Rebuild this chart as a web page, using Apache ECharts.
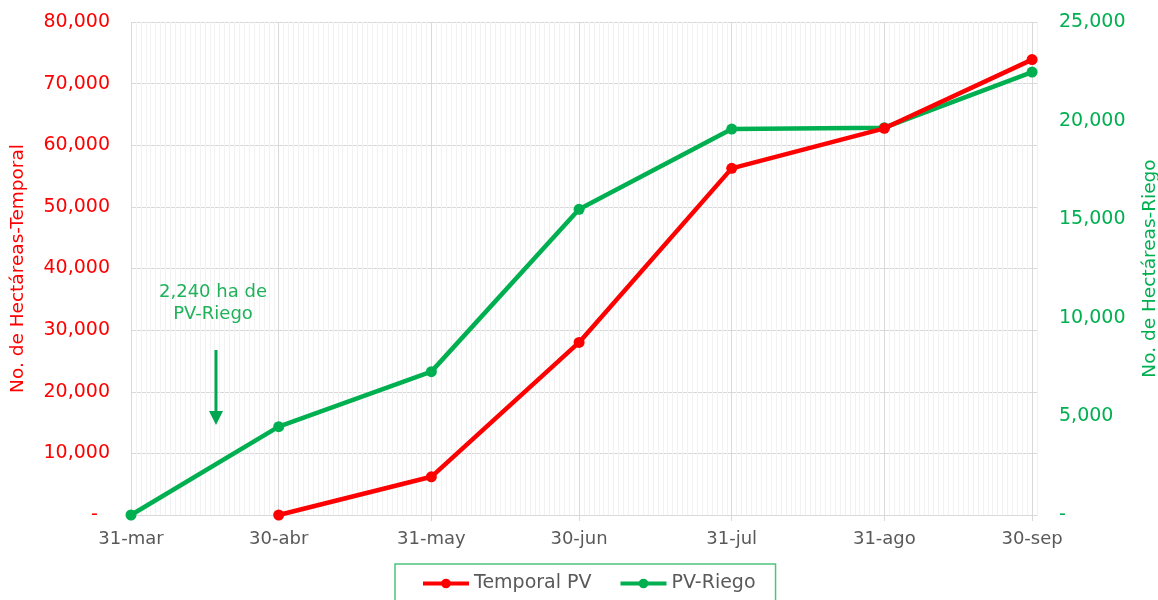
<!DOCTYPE html>
<html>
<head>
<meta charset="utf-8">
<script src="https://cdn.jsdelivr.net/npm/echarts@6/dist/echarts.min.js"></script>
<style>html,body{margin:0;padding:0;background:#fff;}#c{width:1158px;height:600px;}</style>
</head>
<body>
<div id="c"></div>
<script>
const dates = ['2021-03-31','2021-04-30','2021-05-31','2021-06-30','2021-07-31','2021-08-31','2021-09-30'];
const categories = ['31-mar','30-abr','31-may','30-jun','31-jul','31-ago','30-sep'];
const temporalPV = [null, 0, 6200, 28000, 56250, 62750, 73900];
const pvRiego = [0, 4480, 7270, 15500, 19570, 19640, 22460];
const leftTicks = [0, 10000, 20000, 30000, 40000, 50000, 60000, 70000, 80000];
const rightTicks = [0, 5000, 10000, 15000, 20000, 25000];
const noteLines = ['2,240 ha de', 'PV-Riego'];

const DAY = 86400000;
const t0 = Date.parse(dates[0]);
const dayOffsets = dates.map(d => Math.round((Date.parse(d) - t0) / DAY));
const xMax = dayOffsets[dayOffsets.length - 1] + 1;

const FONT = 'DejaVu Sans';
const RED = '#ff0000';
const GREEN = '#00b050';
const fmt = v => v === 0 ? '-' : v.toLocaleString('en-US');

const chart = echarts.init(document.getElementById('c'));
chart.setOption({
  animation: false,
  textStyle: { fontFamily: FONT },
  grid: { left: 131, right: 121, top: 22, bottom: 85, containLabel: false, outerBoundsMode: 'none' },
  legend: {
    left: 395, top: 564,
    padding: [10, 20, 14, 26],
    borderColor: '#4cc47c', borderWidth: 1.5,
    itemWidth: 46, itemHeight: 12, itemGap: 27,
    lineStyle: { width: 4 },
    textStyle: { fontFamily: FONT, fontSize: 19, color: '#595959' },
    data: ['Temporal PV', 'PV-Riego']
  },
  xAxis: [
    {
      type: 'value', min: 0, max: xMax, interval: 1,
      axisLine: { show: true, lineStyle: { color: '#d9d9d9', width: 1 } },
      axisTick: { show: false },
      axisLabel: { show: false },
      splitLine: { show: true, lineStyle: { color: '#f2f2f2', width: 1 } }
    },
    {
      type: 'value', min: 0, max: xMax, position: 'bottom',
      axisLine: { show: false },
      axisTick: { show: true, customValues: dayOffsets, length: 6, lineStyle: { color: '#d9d9d9' } },
      axisLabel: {
        show: true, customValues: dayOffsets, margin: 15,
        fontFamily: FONT, fontSize: 18, color: '#595959',
        formatter: v => { const i = dayOffsets.indexOf(Math.round(v)); return i >= 0 ? categories[i] : ''; }
      },
      splitLine: { show: true, lineStyle: { color: '#d9d9d9', width: 1 } }
    }
  ],
  yAxis: [
    {
      type: 'value', min: leftTicks[0], max: leftTicks[leftTicks.length - 1], interval: leftTicks[1] - leftTicks[0],
      name: 'No. de Hectáreas-Temporal', nameLocation: 'middle', nameGap: 103, nameRotate: 90,
      nameTextStyle: { fontFamily: FONT, fontSize: 18.5, color: RED },
      axisLine: { show: false }, axisTick: { show: false },
      axisLabel: { margin: 21, fontFamily: FONT, fontSize: 19, color: RED, formatter: v => v === 0 ? '-  ' : fmt(v) },
      splitLine: { show: true, lineStyle: { color: '#d9d9d9', width: 1 } }
    },
    {
      type: 'value', position: 'right', min: rightTicks[0], max: rightTicks[rightTicks.length - 1], interval: rightTicks[1] - rightTicks[0],
      name: 'No. de Hectáreas-Riego', nameLocation: 'middle', nameGap: 104, nameRotate: 90,
      nameTextStyle: { fontFamily: FONT, fontSize: 18.5, color: GREEN },
      axisLine: { show: false }, axisTick: { show: false },
      axisLabel: { margin: 22, fontFamily: FONT, fontSize: 19, color: GREEN, formatter: fmt },
      splitLine: { show: false }
    }
  ],
  series: [
    {
      name: 'Temporal PV', type: 'line', xAxisIndex: 1, yAxisIndex: 0,
      data: dayOffsets.map((d, i) => [d, temporalPV[i]]).filter(p => p[1] !== null),
      symbol: 'circle', symbolSize: 11,
      lineStyle: { color: RED, width: 4.5 }, itemStyle: { color: RED }, z: 3
    },
    {
      name: 'PV-Riego', type: 'line', xAxisIndex: 1, yAxisIndex: 1,
      data: dayOffsets.map((d, i) => [d, pvRiego[i]]),
      symbol: 'circle', symbolSize: 11,
      lineStyle: { color: GREEN, width: 4.5 }, itemStyle: { color: GREEN }, z: 2
    }
  ],
  graphic: [
    { type: 'text', x: 213, y: 292, z: 10, style: { text: noteLines[0], fill: '#1fb25a', fontFamily: FONT, fontSize: 18, align: 'center', verticalAlign: 'middle' } },
    { type: 'text', x: 213, y: 314, z: 10, style: { text: noteLines[1], fill: '#1fb25a', fontFamily: FONT, fontSize: 18, align: 'center', verticalAlign: 'middle' } },
    { type: 'rect', z: 10, shape: { x: 214.5, y: 350, width: 3, height: 63 }, style: { fill: '#00a650' } },
    { type: 'polygon', z: 10, shape: { points: [[209, 411], [223, 411], [216, 425]] }, style: { fill: '#00a650' } }
  ]
});
</script>
</body>
</html>
